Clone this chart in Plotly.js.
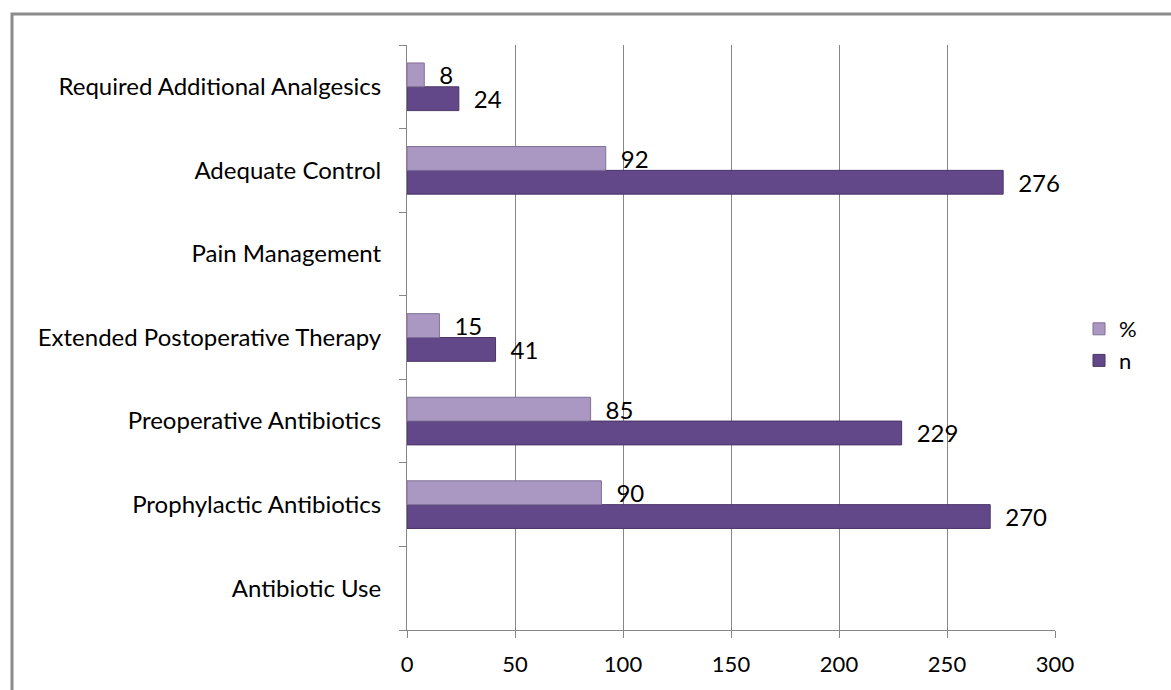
<!DOCTYPE html>
<html>
<head>
<meta charset="utf-8">
<script src="https://cdn.plot.ly/plotly-3.0.1.min.js"></script>
<style>html,body{margin:0;padding:0;background:#fff;}#chart{width:1171px;height:690px;}</style>
</head>
<body>
<div id="chart"></div>
<script>
const categories = ["Antibiotic Use", "Prophylactic Antibiotics", "Preoperative Antibiotics", "Extended Postoperative Therapy", "Pain Management", "Adequate Control", "Required Additional Analgesics"];
const nValues = [null, 270, 229, 41, null, 276, 24];
const pctValues = [null, 90, 85, 15, null, 92, 8];
const xTicks = [0, 50, 100, 150, 200, 250, 300];

const font = "Lato, Open Sans, sans-serif";
const labelOf = v => (v === null ? "" : "\u2002" + String(v));

const traceN = {
  type: "bar", orientation: "h", name: "n",
  y: categories, x: nValues,
  text: nValues.map(labelOf), textposition: "outside", cliponaxis: false, constraintext: "none",
  textfont: {family: font, size: 24, color: "#000"},
  marker: {color: "#634889", line: {color: "#4a3566", width: 1}}
};
const traceP = {
  type: "bar", orientation: "h", name: "%",
  y: categories, x: pctValues,
  text: pctValues.map(labelOf), textposition: "outside", cliponaxis: false, constraintext: "none",
  textfont: {family: font, size: 24, color: "#000"},
  marker: {color: "#aa98c3", line: {color: "#7f6f96", width: 1}}
};

const L = 407, R = 116, T = 45, B = 60, W = 1171, H = 690;
const pw = W - L - R, ph = H - T - B;
const px = x => (x - L) / pw;
const py = y => 1 - (y - T) / ph;

const layout = {
  width: W, height: H,
  margin: {l: L, r: R, t: T, b: B, pad: 0},
  paper_bgcolor: "#fff", plot_bgcolor: "#fff",
  barmode: "group", bargap: 0.43, bargroupgap: 0,
  font: {family: font, size: 22, color: "#000"},
  showlegend: true,
  legend: {x: px(1079), y: py(345), xanchor: "left", yanchor: "middle",
           traceorder: "reversed", font: {family: font, size: 22},
           itemwidth: 30, tracegroupgap: 0},
  xaxis: {range: [0, 300], tickvals: xTicks, ticktext: xTicks.map(String),
          showgrid: true, gridcolor: "#868686", gridwidth: 1,
          showline: true, linecolor: "#868686", linewidth: 1,
          ticks: "outside", ticklen: 7, tickcolor: "#868686", ticklabelstandoff: 8,
          zeroline: false, tickfont: {family: font, size: 22}, fixedrange: true},
  yaxis: {type: "category", categoryorder: "array", categoryarray: categories,
          showline: true, linecolor: "#868686", linewidth: 1,
          ticks: "outside", ticklen: 7, tickcolor: "#868686", tickson: "boundaries",
          showgrid: false, ticklabelstandoff: 20,
          tickfont: {family: font, size: 24}, fixedrange: true},
  shapes: [{type: "path", xref: "paper", yref: "paper",
            path: `M ${px(12)} ${py(700)} L ${px(12)} ${py(14)} L ${px(1180)} ${py(14)}`,
            line: {color: "#8c8c8c", width: 3}, layer: "above"}]
};

Plotly.newPlot("chart", [traceN, traceP], layout, {displayModeBar: false, staticPlot: true});
</script>
</body>
</html>
